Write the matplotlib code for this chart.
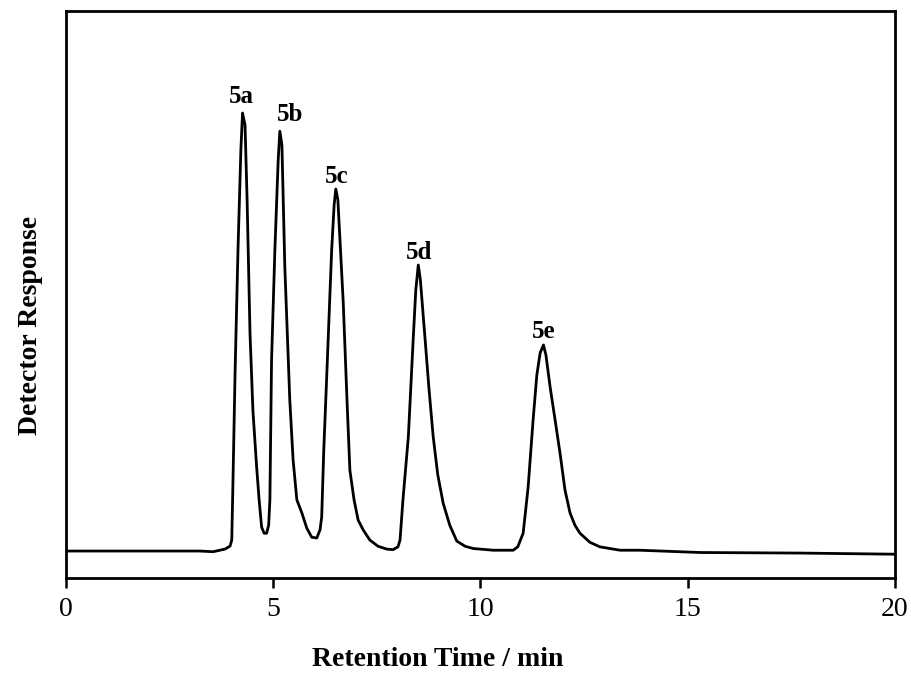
import matplotlib
matplotlib.use('Agg')
import matplotlib.pyplot as plt

plt.rcParams['font.family'] = ['Liberation Serif', 'DejaVu Serif']

# chromatogram trace (time in min, response in arbitrary units)
t = [0.00, 2.03, 3.23, 3.55, 3.84, 3.96, 4.00, 4.03, 4.08, 4.15, 4.22, 4.26,
     4.32, 4.37, 4.44, 4.51, 4.60, 4.66, 4.72, 4.78, 4.84, 4.89, 4.92, 4.96,
     5.04, 5.12, 5.16, 5.21, 5.28, 5.40, 5.48, 5.57, 5.69, 5.81, 5.93, 6.05,
     6.13, 6.17, 6.22, 6.29, 6.41, 6.47, 6.51, 6.56, 6.69, 6.78, 6.85, 6.95,
     7.05, 7.17, 7.33, 7.53, 7.74, 7.89, 8.01, 8.06, 8.13, 8.26, 8.38, 8.44,
     8.50, 8.55, 8.66, 8.76, 8.86, 8.97, 9.10, 9.26, 9.43, 9.63, 9.83, 10.31,
     10.79, 10.90, 11.03, 11.15, 11.27, 11.36, 11.44, 11.52, 11.58, 11.68, 11.80, 11.92,
     12.04, 12.16, 12.28, 12.40, 12.64, 12.88, 13.37, 13.85, 15.30, 17.71, 20.00]
resp = [4.76, 4.76, 4.76, 4.64, 5.11, 5.64, 6.70, 17.3, 36.2, 57.8, 75.5, 82.0,
        79.9, 66.7, 43.2, 29.6, 19.6, 13.8, 9.0, 7.9, 7.9, 9.3, 13.8, 38.4,
        57.8, 73.7, 78.8, 76.4, 54.9, 31.4, 20.8, 13.8, 11.5, 8.8, 7.2, 7.05,
        8.5, 10.8, 22.6, 35.4, 57.8, 65.8, 68.6, 66.7, 48.5, 31.4, 19.0, 13.8,
        10.2, 8.5, 6.7, 5.6, 5.1, 5.0, 5.5, 6.7, 13.8, 24.9, 42.5, 50.8,
        55.2, 52.6, 42.5, 33.2, 24.9, 18.2, 13.2, 9.3, 6.5, 5.6, 5.2, 4.9,
        4.9, 5.5, 7.9, 16.0, 27.9, 35.8, 39.7, 41.1, 39.3, 33.7, 27.9, 22.0,
        15.5, 11.5, 9.3, 7.9, 6.3, 5.5, 4.9, 4.9, 4.5, 4.4, 4.2]

peak_names = ['5a', '5b', '5c', '5d', '5e']
peak_t = [4.22, 5.40, 6.54, 8.52, 11.53]
peak_label_y = [83.8, 80.6, 69.7, 56.3, 42.3]

fig = plt.figure(figsize=(9.11, 6.77), dpi=100)
ax = fig.add_axes([0.0724, 0.1462, 0.91, 0.8376])

ax.plot(t, resp, color='black', lw=2)

for name, x, y in zip(peak_names, peak_t, peak_label_y):
    ax.text(x, y, name, ha='center', va='baseline', fontsize=18, fontweight='bold')

ax.set_xlim(0, 20)
ax.set_ylim(0, 100)
ax.set_xticks([0, 5, 10, 15, 20])
ax.set_yticks([])
ax.tick_params(axis='x', direction='out', length=7, width=1.8, labelsize=20, pad=7)
for s in ax.spines.values():
    s.set_linewidth(2)

fig.text(0.48, 0.026, 'Retention Time / min', ha='center', va='center',
         fontsize=20, fontweight='bold')
fig.text(0.033, 0.52, 'Detector Response', ha='center', va='center',
         rotation=90, fontsize=20, fontweight='bold')

fig.savefig('out.png', dpi=100)
